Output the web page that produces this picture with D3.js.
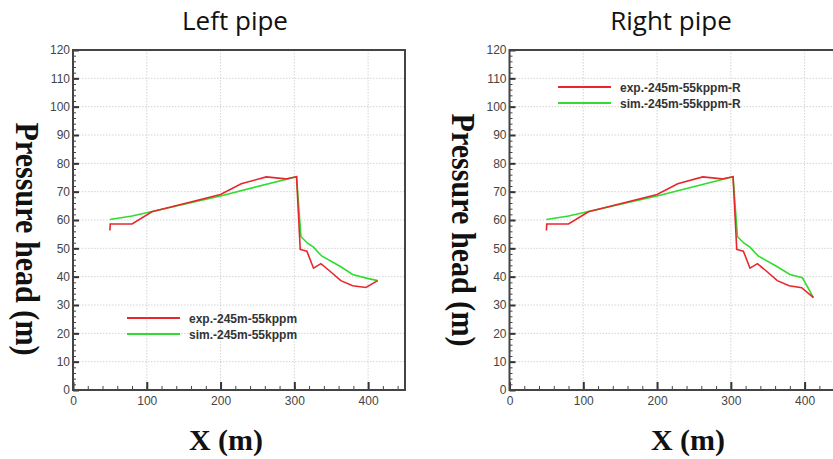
<!DOCTYPE html>
<html>
<head>
<meta charset="utf-8">
<script src="https://cdn.jsdelivr.net/npm/d3@7"></script>
<style>
  body { margin: 0; background: #fff; }
  svg { display: block; }
  .tick text { font-family: "Liberation Sans", Arial, sans-serif; font-size: 12px; fill: #444; }
  .grid line { stroke: #d4d4d4; stroke-dasharray: 1.5,1.5; }
  .title { font-family: "Open Sans", sans-serif; font-size: 26px; fill: #111; }
  .axis-label { font-family: "Liberation Serif", "Times New Roman", serif; font-weight: bold; fill: #111; }
  .legend text { font-family: "Liberation Sans", Arial, sans-serif; font-weight: bold; font-size: 12px; fill: #333; }
</style>
</head>
<body>
<div id="chart"></div>
<script>
// tick values shared by both panels
const xTicks = [0, 100, 200, 300, 400];
const yTicks = [0, 10, 20, 30, 40, 50, 60, 70, 80, 90, 100, 110, 120];

// left pipe, [x (m), pressure head (m)]
const expLeft = [[50, 56.3], [50.5, 58.6], [80, 58.6], [107, 62.9], [200, 69], [228, 72.8], [262, 75.2],
  [288, 74.5], [303, 75.3], [308, 49.6], [317, 49], [326, 43], [336, 44.6], [348, 42], [363, 38.6],
  [379, 36.8], [397, 36.2], [413, 38.6]];
const simLeft = [[50, 60.2], [80, 61.4], [107, 63], [200, 68.5], [303, 75.3], [309, 54.1], [318, 51.8],
  [326, 50.4], [337, 47.3], [363, 43.5], [379, 40.8], [399, 39.4], [413, 38.6]];

// right pipe
const expRight = [[50, 56.3], [50.5, 58.6], [80, 58.6], [107, 62.9], [200, 69], [228, 72.8], [262, 75.2],
  [288, 74.5], [303, 75.3], [308, 49.6], [317, 49], [326, 43], [336, 44.6], [348, 42], [363, 38.6],
  [379, 36.8], [396, 36.1], [412, 32.6]];
const simRight = [[50, 60.2], [80, 61.4], [107, 63], [200, 68.5], [303, 75.3], [309, 54.1], [318, 51.8],
  [326, 50.4], [337, 47.3], [363, 43.5], [380, 40.8], [397, 39.6], [412, 32.6]];

const RED = "#e8272c", GREEN = "#2fdc2f";

const panels = [
  { title: "Left pipe", titleX: 235, left: 73, yLabelX: 16, yLabelY: 239, xLabelX: 226,
    legendX: 127, legendY: 318, exp: expLeft, sim: simLeft,
    names: ["exp.-245m-55kppm", "sim.-245m-55kppm"] },
  { title: "Right pipe", titleX: 671, left: 509.5, yLabelX: 452, yLabelY: 230, xLabelX: 688,
    legendX: 558, legendY: 87, exp: expRight, sim: simRight,
    names: ["exp.-245m-55kppm-R", "sim.-245m-55kppm-R"] }
];

const svg = d3.select("#chart").append("svg")
  .attr("width", 833)
  .attr("height", 459);

const plotTop = 50, plotBottom = 390;

panels.forEach(p => {
  const x = d3.scaleLinear().domain([0, 450]).range([p.left, p.left + 332]);
  const y = d3.scaleLinear().domain([0, 120]).range([plotBottom, plotTop]);
  const g = svg.append("g");

  // dotted grid
  const grid = g.append("g").attr("class", "grid");
  grid.selectAll(".gx").data(xTicks.slice(1)).join("line")
    .attr("class", "gx")
    .attr("x1", d => x(d)).attr("x2", d => x(d))
    .attr("y1", plotTop).attr("y2", plotBottom);
  grid.selectAll(".gy").data(yTicks.slice(1, -1)).join("line")
    .attr("class", "gy")
    .attr("x1", x(0)).attr("x2", x(450))
    .attr("y1", d => y(d)).attr("y2", d => y(d));

  // minor ticks
  g.append("g")
    .attr("transform", `translate(0,${plotBottom})`)
    .call(d3.axisBottom(x).tickValues(d3.range(0, 451, 20)).tickSize(-4).tickFormat(""))
    .call(a => a.select(".domain").remove())
    .selectAll("line").attr("stroke", "#444");
  g.append("g")
    .attr("transform", `translate(${x(0)},0)`)
    .call(d3.axisLeft(y).tickValues(d3.range(0, 121, 2)).tickSize(-3).tickFormat(""))
    .call(a => a.select(".domain").remove())
    .selectAll("line").attr("stroke", "#444");

  // major ticks + labels
  g.append("g")
    .attr("transform", `translate(0,${plotBottom})`)
    .call(d3.axisBottom(x).tickValues(xTicks).tickSize(-8).tickPadding(6))
    .call(a => a.select(".domain").remove())
    .selectAll("line").attr("stroke", "#333").attr("stroke-width", 2);
  g.append("g")
    .attr("transform", `translate(${x(0)},0)`)
    .call(d3.axisLeft(y).tickValues(yTicks).tickSize(-6).tickPadding(3))
    .call(a => a.select(".domain").remove())
    .selectAll("line").attr("stroke", "#333").attr("stroke-width", 2);

  // frame
  g.append("rect")
    .attr("x", x(0)).attr("y", plotTop)
    .attr("width", x(450) - x(0)).attr("height", plotBottom - plotTop)
    .attr("fill", "none").attr("stroke", "#444").attr("stroke-width", 2);

  const line = d3.line().x(d => x(d[0])).y(d => y(d[1]));
  g.append("path").datum(p.sim).attr("d", line)
    .attr("fill", "none").attr("stroke", GREEN).attr("stroke-width", 1.6);
  g.append("path").datum(p.exp).attr("d", line)
    .attr("fill", "none").attr("stroke", RED).attr("stroke-width", 1.6);

  // legend
  const lg = g.append("g").attr("class", "legend")
    .attr("transform", `translate(${p.legendX},${p.legendY})`);
  [RED, GREEN].forEach((c, i) => {
    lg.append("line").attr("x1", 0).attr("x2", 53)
      .attr("y1", i * 16).attr("y2", i * 16)
      .attr("stroke", c).attr("stroke-width", 1.8);
    lg.append("text").attr("x", 62).attr("y", i * 16 + 4.5).text(p.names[i]);
  });

  // titles and axis labels
  svg.append("text").attr("class", "title")
    .attr("x", p.titleX).attr("y", 30)
    .attr("text-anchor", "middle").text(p.title);

  svg.append("text").attr("class", "axis-label")
    .attr("transform", `translate(${p.yLabelX},${p.yLabelY}) rotate(90)`)
    .attr("text-anchor", "middle")
    .style("font-size", "34px")
    .attr("textLength", 233).attr("lengthAdjust", "spacingAndGlyphs")
    .text("Pressure head (m)");

  svg.append("text").attr("class", "axis-label")
    .attr("x", p.xLabelX).attr("y", 450)
    .attr("text-anchor", "middle")
    .style("font-size", "30px")
    .text("X (m)");
});
</script>
</body>
</html>
